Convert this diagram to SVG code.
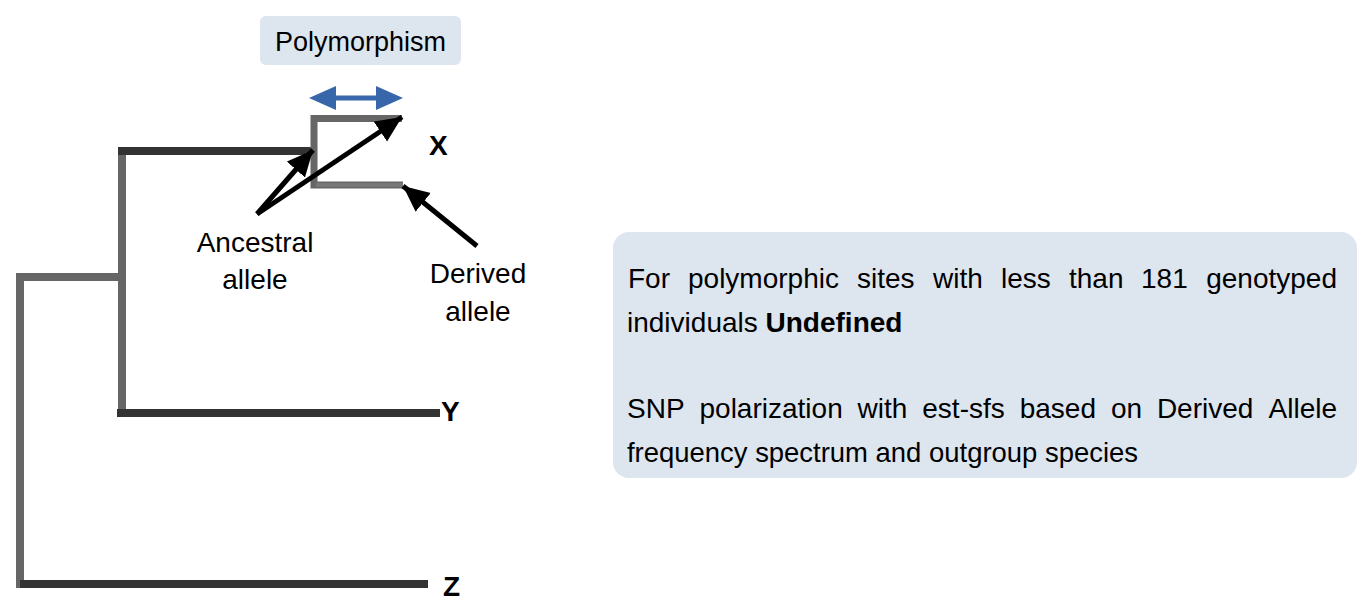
<svg xmlns="http://www.w3.org/2000/svg" width="1371" height="613" viewBox="0 0 1371 613">
<style>
text{font-family:"Liberation Sans",Arial,sans-serif;fill:#000}
.lbl{font-size:28px}
.leaf{font-size:28px;font-weight:bold}
.info{font-size:28px}
.dark{stroke:#333;stroke-width:8;fill:none}
.gray{stroke:#666;stroke-width:8;fill:none}
.ptr{stroke:#000;stroke-width:5;fill:none;marker-end:url(#ah)}
</style>
<defs>
<marker id="ah" markerUnits="userSpaceOnUse" markerWidth="30" markerHeight="26" refX="26" refY="12" orient="auto">
<polygon points="0,0 26,12 0,24" fill="#000"/>
</marker>
</defs>
<g id="tree">
<line class="gray" x1="20" y1="273" x2="20" y2="588"/>
<line class="gray" x1="16" y1="277" x2="122" y2="277"/>
<line class="dark" x1="20" y1="584" x2="428" y2="584"/>
<line class="gray" x1="122" y1="147" x2="122" y2="417"/>
<line class="dark" x1="117" y1="413" x2="440" y2="413"/>
<line class="dark" x1="118" y1="151" x2="311" y2="151"/>
<polyline points="402,118.5 314,118.5 314,185 403,185" fill="none" stroke="#666" stroke-width="7"/>
<line x1="316" y1="185" x2="403" y2="185" stroke="#777" stroke-width="4"/>
</g>
<g id="polymorphism">
<rect x="260" y="16" width="201" height="49" rx="6" fill="#dde5ef"/>
<text class="lbl" x="360.5" y="51" text-anchor="middle" style="font-size:27px">Polymorphism</text>
</g>
<g id="range-arrow">
<line x1="330" y1="98" x2="382" y2="98" stroke="#3767aa" stroke-width="5"/>
<polygon points="309,98 336,86 336,110" fill="#3767aa"/>
<polygon points="403,98 376,86 376,110" fill="#3767aa"/>
</g>
<g id="leaf-x"><text class="leaf" x="429" y="155">X</text></g>
<g id="leaf-y"><text class="leaf" x="441" y="421">Y</text></g>
<g id="leaf-z"><text class="leaf" x="443" y="596">Z</text></g>
<g id="connectors">
<line class="ptr" x1="257" y1="214" x2="313" y2="150"/>
<line class="ptr" x1="257" y1="214" x2="402" y2="117"/>
<line class="ptr" x1="477" y1="246" x2="403" y2="186"/>
</g>
<g id="ancestral">
<text class="lbl" x="255" y="252" text-anchor="middle">Ancestral</text>
<text class="lbl" x="255" y="289" text-anchor="middle">allele</text>
</g>
<g id="derived">
<text class="lbl" x="478" y="283" text-anchor="middle">Derived</text>
<text class="lbl" x="478" y="321" text-anchor="middle">allele</text>
</g>
<g id="info">
<rect x="613" y="232" width="744" height="246" rx="16" fill="#dde5ef"/>
<text class="info" y="288"><tspan x="628">For</tspan><tspan x="688">polymorphic</tspan><tspan x="857">sites</tspan><tspan x="933">with</tspan><tspan x="1001">less</tspan><tspan x="1069">than</tspan><tspan x="1141">181</tspan><tspan x="1337" text-anchor="end">genotyped</tspan></text>
<text class="info" x="627" y="332">individuals <tspan font-weight="bold">Undefined</tspan></text>
<text class="info" y="418"><tspan x="627">SNP</tspan><tspan x="699.5">polarization</tspan><tspan x="857.6">with</tspan><tspan x="922.3">est-sfs</tspan><tspan x="1019.7">based</tspan><tspan x="1110.9">on</tspan><tspan x="1156.9">Derived</tspan><tspan x="1337" text-anchor="end">Allele</tspan></text>
<text class="info" x="627" y="462" textLength="511" lengthAdjust="spacingAndGlyphs">frequency spectrum and outgroup species</text>
</g>
</svg>
